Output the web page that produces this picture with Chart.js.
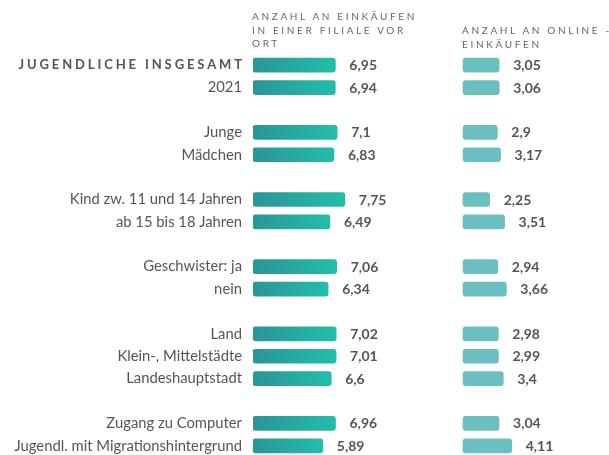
<!DOCTYPE html>
<html><head><meta charset="utf-8">
<script src="https://cdn.jsdelivr.net/npm/chart.js@4/dist/chart.umd.min.js"></script>
<style>
html,body{margin:0;padding:0;background:#fff;overflow:hidden;width:609px;height:455px;}
#wrap{position:relative;width:609px;height:457px;}
canvas{display:block;}
.hdr{position:absolute;font-family:Lato,sans-serif;font-size:10px;letter-spacing:2.65px;color:#666;line-height:13.5px;white-space:nowrap;}
</style></head><body>
<div id="wrap"><canvas id="c" width="609" height="457"></canvas>
<div class="hdr" style="left:252px;top:10px">ANZAHL AN EINKÄUFEN<br>IN EINER FILIALE VOR<br>ORT</div>
<div class="hdr" style="left:462px;top:24px">ANZAHL AN ONLINE -<br>EINKÄUFEN</div>
</div>
<script>
const categories = ['JUGENDLICHE INSGESAMT','2021','','Junge','Mädchen','','Kind zw. 11 und 14 Jahren','ab 15 bis 18 Jahren','','Geschwister: ja','nein','','Land','Klein-, Mittelstädte','Landeshauptstadt','','Zugang zu Computer','Jugendl. mit Migrationshintergrund'];
const filiale = [6.95,6.94,null,7.1,6.83,null,7.75,6.49,null,7.06,6.34,null,7.02,7.01,6.6,null,6.96,5.89];
const online = [3.05,3.06,null,2.9,3.17,null,2.25,3.51,null,2.94,3.66,null,2.98,2.99,3.4,null,3.04,4.11];

const HEAD_SPACING = 2.88;
Chart.defaults.font.family = 'Lato';

const fmt = v => String(v).replace('.', ',');

const valueLabels = {
  id: 'valueLabels',
  afterDatasetsDraw(chart) {
    const ctx = chart.ctx;
    ctx.save();
    ctx.font = 'bold 14px Lato';
    ctx.fillStyle = '#555';
    ctx.textAlign = 'left';
    ctx.textBaseline = 'middle';
    chart.data.datasets.forEach((ds, di) => {
      const meta = chart.getDatasetMeta(di);
      meta.data.forEach((el, i) => {
        const v = ds.data[i];
        if (v == null) return;
        ctx.fillText(fmt(v), el.x + 14, el.y + 0.5);
      });
    });
    ctx.restore();
  }
};

function grad(c) {
  const ch = c.chart;
  const v = c.raw;
  if (v == null || !ch.chartArea) return '#2b9597';
  const s = ch.scales.xL;
  const x0 = s.getPixelForValue(0), x1 = s.getPixelForValue(v);
  const g = ch.ctx.createLinearGradient(x0, 0, x1, 0);
  g.addColorStop(0, '#2b9597');
  g.addColorStop(1, '#22bea9');
  return g;
}

new Chart(document.getElementById('c'), {
  type: 'bar',
  data: {
    labels: categories,
    datasets: [
      {data: filiale, xAxisID: 'xL', grouped: false, barThickness: 14, borderRadius: 3, borderSkipped: false, backgroundColor: grad},
      {data: online, xAxisID: 'xR', grouped: false, barThickness: 14, borderRadius: 3, borderSkipped: false, backgroundColor: '#6bbfc1'}
    ]
  },
  options: {
    indexAxis: 'y',
    responsive: false,
    animation: false,
    layout: {padding: {top: 54, right: 0, bottom: 0, left: 0}},
    plugins: {legend: {display: false}, tooltip: {enabled: false}},
    scales: {
      y: {
        type: 'category',
        offset: true,
        grid: {display: false, drawTicks: false},
        border: {display: false},
        ticks: {
          autoSkip: false,
          padding: 11,
          color: '#555',
          font: c => c.index === 0 ? {family: 'Lato', size: 13, weight: 'bold'} : {family: 'Lato', size: 14.8}
        },
        afterFit(s) {
          s.width = 253;
          s.paddingTop = 0;
          s.paddingBottom = 0;
          if (!s._lsPatched) {
            s._lsPatched = true;
            const orig = s.drawLabels;
            s.drawLabels = function(a) {
              const c = this.ctx;
              const of = c.fillText;
              c.fillText = function(t, x, y) {
                if (t === categories[0]) {
                  c.letterSpacing = HEAD_SPACING + 'px';
                  of.call(c, t, x + HEAD_SPACING, y);
                  c.letterSpacing = '0px';
                } else {
                  of.call(c, t, x, y);
                }
              };
              try { orig.call(this, a); } finally { delete c.fillText; }
            };
          }
        }
      },
      xL: {type: 'linear', position: 'bottom', display: false, min: 0, max: 30.04},
      xR: {type: 'linear', position: 'bottom', display: false, min: -17.72, max: 12.32}
    }
  },
  plugins: [valueLabels]
});
</script>
</body></html>
